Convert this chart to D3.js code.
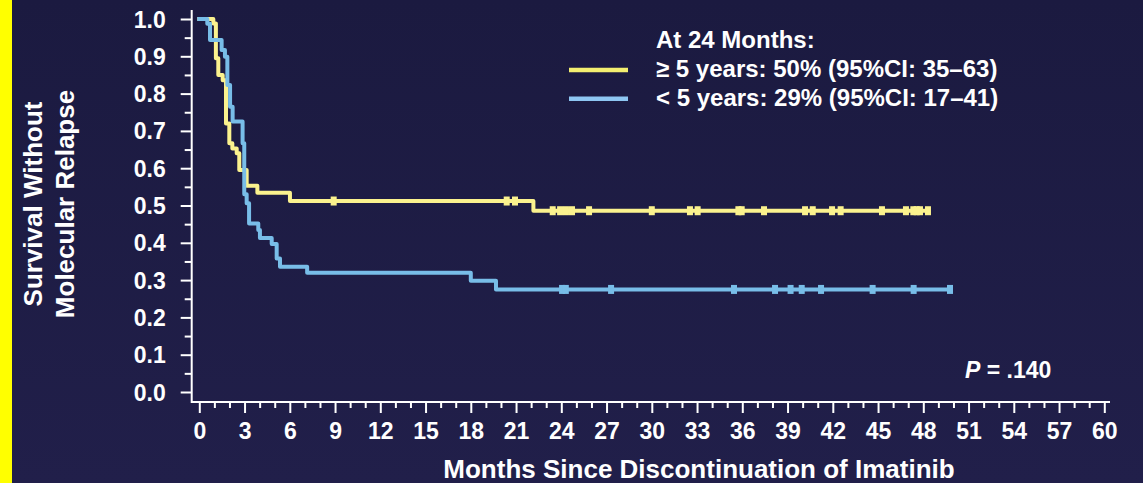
<!DOCTYPE html>
<html>
<head>
<meta charset="utf-8">
<script src="https://cdn.jsdelivr.net/npm/d3@7"></script>
<style>
  html, body { margin: 0; padding: 0; background: #1c1b42; }
  svg { display: block; }
  text { font-family: "Liberation Sans", Arial, sans-serif; font-weight: bold; fill: #ffffff; }
</style>
</head>
<body>
<svg id="chart" width="1143" height="483"></svg>
<script>
// Kaplan–Meier estimates: event times (months) and survival after each step
const longTimes = [0, 0.93, 1.10, 1.26, 1.55, 1.77, 1.99, 2.19, 2.48, 2.65, 3.14, 3.85, 6.01, 22.15];
const longSurv  = [1.0, 0.988, 0.895, 0.850, 0.836, 0.720, 0.667, 0.653, 0.640, 0.595, 0.553, 0.534, 0.512, 0.486];
const longEnd = 48.31;
const longCensored = [8.91, 20.38, 20.93, 23.43, 23.92, 24.31, 24.71, 25.84, 30.0, 32.53, 33.04, 35.74, 35.96,
                      37.44, 40.16, 40.67, 41.95, 42.52, 45.26, 46.85, 47.34, 47.56, 47.78, 48.31];

const shortTimes = [0, 0.53, 0.71, 1.48, 1.70, 1.86, 2.04, 2.21, 2.87, 2.98, 3.14, 3.30, 3.91, 4.02, 4.80, 5.13, 5.35, 7.15, 18.0, 19.67];
const shortSurv  = [1.0, 0.987, 0.944, 0.917, 0.899, 0.823, 0.765, 0.725, 0.667, 0.530, 0.506, 0.452, 0.434, 0.413, 0.397, 0.358, 0.336, 0.320, 0.298, 0.275];
const shortEnd = 49.77;
const shortCensored = [24.05, 24.3, 27.3, 35.45, 38.17, 39.2, 39.94, 41.22, 44.64, 47.36, 49.77];

// Axis ticks
const xTicks = d3.range(0, 61, 3);
const xMinorTicks = d3.range(0, 61, 1);
const yTicks = d3.range(0, 11).map(i => i / 10);
const yMinorTicks = d3.range(0, 21).map(i => i / 20);

const legendTitle = "At 24 Months:";
const legendLabels = ["\u2265 5 years: 50% (95%CI: 35\u201363)", "< 5 years: 29% (95%CI: 17\u201341)"];

const svg = d3.select("#chart");
const W = 1143, H = 483;

// Background with a gentle vertical gradient and yellow side bar
const defs = svg.append("defs");
const grad = defs.append("linearGradient").attr("id", "bg").attr("x1", 0).attr("y1", 0).attr("x2", 0).attr("y2", 1);
grad.append("stop").attr("offset", "0%").attr("stop-color", "#1b1a40");
grad.append("stop").attr("offset", "100%").attr("stop-color", "#211f4a");
svg.append("rect").attr("width", W).attr("height", H).attr("fill", "url(#bg)");
svg.append("rect").attr("x", 0).attr("y", 0).attr("width", 12).attr("height", H).attr("fill", "#ffff00");

const x = d3.scaleLinear().domain([0, 60]).range([199.3, 1104.3]);
const y = d3.scaleLinear().domain([0, 1]).range([392, 19]);

const axisColor = "#ffffff";

// Axis lines (L-shaped frame)
svg.append("path")
  .attr("d", `M${191.7},10 L${191.7},402 L1110,402`)
  .attr("fill", "none").attr("stroke", axisColor).attr("stroke-width", 2);

// Y axis
const yAxis = d3.axisLeft(y).tickValues(yTicks).tickFormat(d3.format(".1f")).tickSize(11).tickPadding(15);
const gy = svg.append("g").attr("transform", "translate(191.7,0)").call(yAxis);
gy.select(".domain").remove();
gy.selectAll(".tick line").attr("stroke", axisColor).attr("stroke-width", 2);
gy.selectAll(".tick text").attr("font-size", 23).attr("dy", "0.35em").attr("fill", "#fff")
  .attr("font-family", "Liberation Sans, Arial, sans-serif").attr("font-weight", "bold");
const gyMinor = svg.append("g").attr("transform", "translate(191.7,0)")
  .call(d3.axisLeft(y).tickValues(yMinorTicks.filter((d, i) => i % 2 === 1)).tickSize(7).tickFormat(""));
gyMinor.select(".domain").remove();
gyMinor.selectAll(".tick line").attr("stroke", axisColor).attr("stroke-width", 2);

// X axis
const xAxis = d3.axisBottom(x).tickValues(xTicks).tickSize(11).tickPadding(10);
const gx = svg.append("g").attr("transform", "translate(0,402)").call(xAxis);
gx.select(".domain").remove();
gx.selectAll(".tick line").attr("stroke", axisColor).attr("stroke-width", 2);
gx.selectAll(".tick text").attr("font-size", 23).attr("fill", "#fff")
  .attr("font-family", "Liberation Sans, Arial, sans-serif").attr("font-weight", "bold");
const gxMinor = svg.append("g").attr("transform", "translate(0,402)")
  .call(d3.axisBottom(x).tickValues(xMinorTicks.filter(d => d % 3 !== 0)).tickSize(6).tickFormat(""));
gxMinor.select(".domain").remove();
gxMinor.selectAll(".tick line").attr("stroke", axisColor).attr("stroke-width", 2);

// Axis titles
svg.append("text").attr("x", 699).attr("y", 478).attr("text-anchor", "middle").attr("font-size", 26)
  .text("Months Since Discontinuation of Imatinib");
const yTitle = svg.append("text").attr("transform", "translate(0,204) rotate(-90)")
  .attr("text-anchor", "middle").attr("font-size", 26);
yTitle.append("tspan").attr("x", 0).attr("y", 42).text("Survival Without");
yTitle.append("tspan").attr("x", 0).attr("y", 74).text("Molecular Relapse");

// Survival curves
function stepPoints(times, surv, end) {
  const pts = times.map((t, i) => [t, surv[i]]);
  pts.push([end, surv[surv.length - 1]]);
  return pts;
}
function survAt(times, surv, t) {
  const i = d3.bisectRight(times, t) - 1;
  return surv[Math.max(0, i)];
}
const line = d3.line().x(d => x(d[0])).y(d => y(d[1])).curve(d3.curveStepAfter);

const groups = [
  { times: longTimes, surv: longSurv, end: longEnd, cens: longCensored, color: "#fbf28e" },
  { times: shortTimes, surv: shortSurv, end: shortEnd, cens: shortCensored, color: "#78bde8" }
];

groups.forEach(g => {
  svg.append("path")
    .attr("d", line(stepPoints(g.times, g.surv, g.end)))
    .attr("fill", "none").attr("stroke", g.color).attr("stroke-width", 4)
    .attr("stroke-linejoin", "round").attr("stroke-linecap", "square");
  svg.append("g").selectAll("rect").data(g.cens).join("rect")
    .attr("x", d => x(d) - 3)
    .attr("y", d => y(survAt(g.times, g.surv, d)) - 4.5)
    .attr("width", 6).attr("height", 9)
    .attr("fill", g.color);
});

// Legend
const legend = svg.append("g");
legend.append("text").attr("x", 656).attr("y", 48).attr("font-size", 24).text(legendTitle);
const swatchColors = ["#f3ef70", "#8ec6f2"];
legendLabels.forEach((lab, i) => {
  const yy = 77 + i * 28.8;
  legend.append("line").attr("x1", 569).attr("x2", 628).attr("y1", yy - 7).attr("y2", yy - 7)
    .attr("stroke", swatchColors[i]).attr("stroke-width", 4.5);
  legend.append("text").attr("x", 656).attr("y", yy).attr("font-size", 24).text(lab);
});

// P value
const p = svg.append("text").attr("x", 965).attr("y", 378).attr("font-size", 23);
p.append("tspan").attr("font-style", "italic").text("P");
p.append("tspan").text(" = .140");
</script>
</body>
</html>
